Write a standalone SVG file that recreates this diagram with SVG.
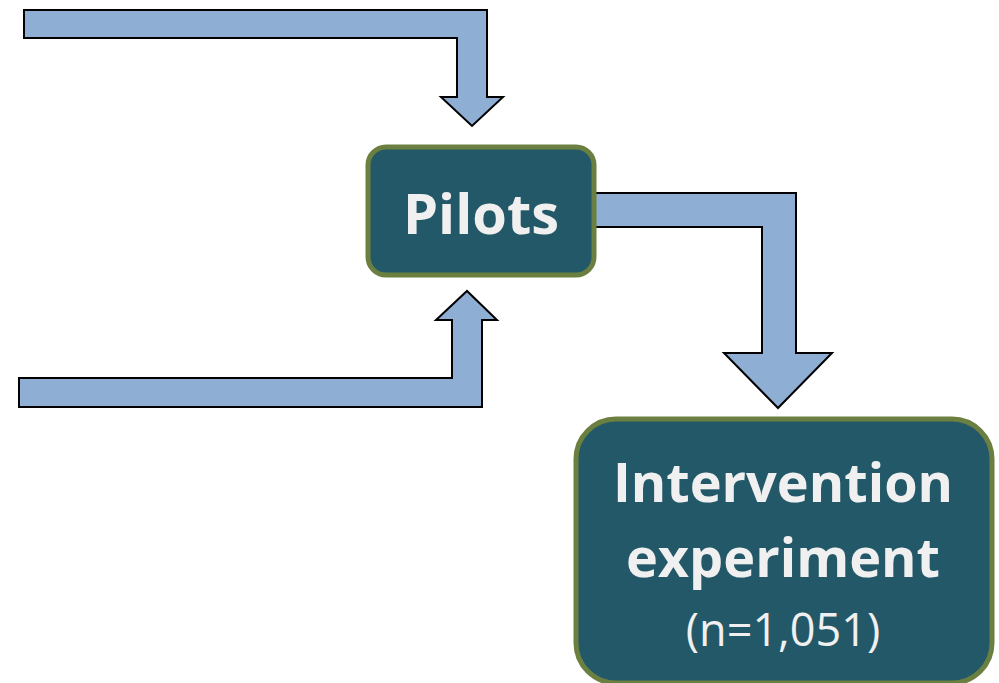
<svg xmlns="http://www.w3.org/2000/svg" width="999" height="683" viewBox="0 0 999 683">
<style>
.arrow{fill:#8eaed3;stroke:#000;stroke-width:2;stroke-linejoin:miter}
.box{fill:#235868;stroke:#6b8040;stroke-width:5}
.t{font-family:"Open Sans","Noto Sans",sans-serif;fill:#f0f0f0;text-anchor:middle}
.b{font-weight:bold}
</style>
<rect width="999" height="683" fill="#ffffff"/>
<g id="connectors">
<path class="arrow" d="M24,10 H487 V97 H503 L472,126 L441,97 H457 V38 H24 Z"/>
<path class="arrow" d="M19,378 H452 V320 H436 L467,291 L497,320 H482 V407 H19 Z"/>
<path class="arrow" d="M593,193 H796 V353 H832 L778,408 L724,353 H762 V227 H593 Z"/>
</g>
<g id="pilots">
<rect class="box" x="368" y="147" width="226" height="128" rx="18"/>
<text class="t b" x="481" y="234" font-size="56">Pilots</text>
</g>
<g id="intervention">
<rect class="box" x="576" y="419" width="416" height="264" rx="40"/>
<text class="t b" x="783" y="502" font-size="54">Intervention</text>
<text class="t b" x="783" y="577" font-size="54">experiment</text>
<text class="t" x="783" y="646" font-size="45">(n=1,051)</text>
</g>
</svg>
